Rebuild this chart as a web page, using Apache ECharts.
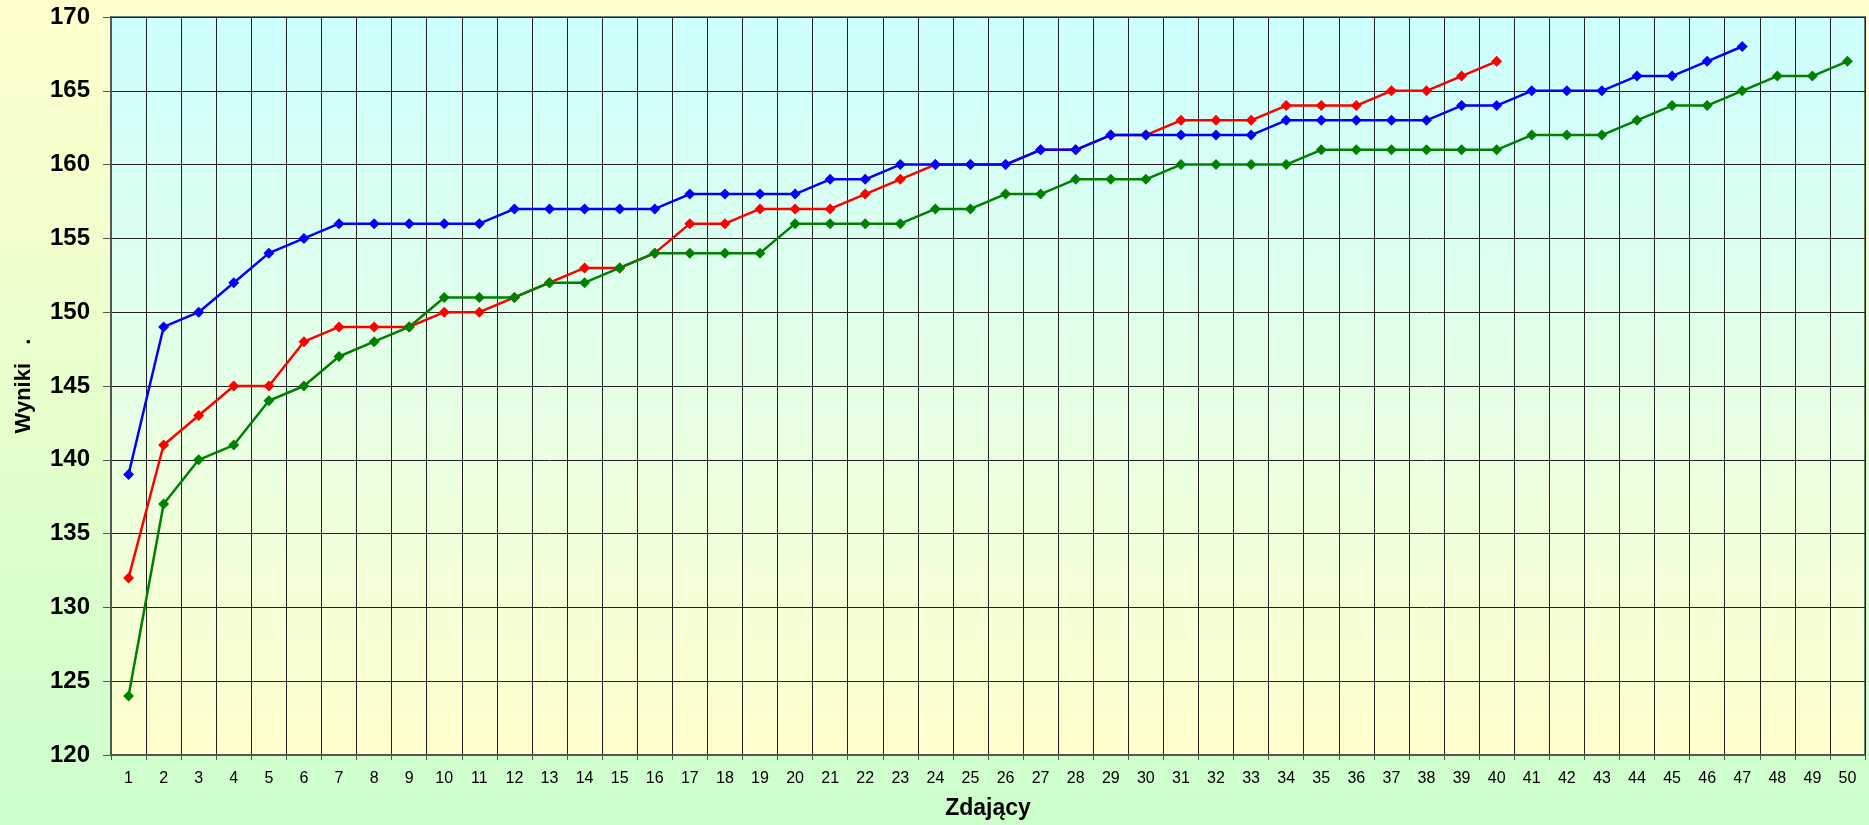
<!DOCTYPE html>
<html>
<head>
<meta charset="utf-8">
<title>Wyniki</title>
<script src="https://cdn.jsdelivr.net/npm/echarts@6/dist/echarts.min.js"></script>
<style>
    html, body { margin: 0; padding: 0; }
    #main {
        width: 1869px;
        height: 825px;
        background: linear-gradient(to bottom, #ffffcc 0%, #e6ffcc 50%, #ccffcc 100%);
    }
</style>
</head>
<body>
<div id="main"></div>
<script>
    // kategorie - numery zdających
    var categories = [];
    for (var k = 1; k <= 50; k++) categories.push(String(k));

    // wyniki
    var seriaNiebieska = [139, 149, 150, 152, 154, 155, 156, 156, 156, 156, 156, 157, 157, 157, 157, 157, 158, 158, 158, 158,
        159, 159, 160, 160, 160, 160, 161, 161, 162, 162, 162, 162, 162, 163, 163, 163, 163, 163, 164, 164,
        165, 165, 165, 166, 166, 167, 168];
    var seriaCzerwona = [132, 141, 143, 145, 145, 148, 149, 149, 149, 150, 150, 151, 152, 153, 153, 154, 156, 156, 157, 157,
        157, 158, 159, 160, 160, 160, 161, 161, 162, 162, 163, 163, 163, 164, 164, 164, 165, 165, 166, 167];
    var seriaZielona = [124, 137, 140, 141, 144, 145, 147, 148, 149, 151, 151, 151, 152, 152, 153, 154, 154, 154, 154, 156,
        156, 156, 156, 157, 157, 158, 158, 159, 159, 159, 160, 160, 160, 160, 161, 161, 161, 161, 161, 161,
        162, 162, 162, 163, 164, 164, 165, 166, 166, 167];

    var yTicks = [120, 125, 130, 135, 140, 145, 150, 155, 160, 165, 170];

    function linia(data, color, z) {
        return {
            type: 'line',
            data: data,
            z: z,
            symbol: 'diamond',
            symbolSize: 11,
            color: color,
            lineStyle: { color: color, width: 2.5 },
            itemStyle: { color: color },
            animation: false
        };
    }

    var myChart = echarts.init(document.getElementById('main'));
    var option = {
        backgroundColor: 'transparent',
        animation: false,
        grid: {
            left: 111,
            right: 4,
            top: 17,
            bottom: 70,
            show: true,
            borderColor: '#6b7b7b',
            borderWidth: 2,
            backgroundColor: {
                type: 'linear', x: 0, y: 0, x2: 0, y2: 1,
                colorStops: [
                    { offset: 0, color: '#ccffff' },
                    { offset: 1, color: '#ffffcc' }
                ]
            }
        },
        xAxis: {
            type: 'category',
            data: categories,
            boundaryGap: true,
            name: 'Zdający',
            nameLocation: 'middle',
            nameGap: 42,
            nameTextStyle: { fontFamily: 'Liberation Sans', fontWeight: 'bold', fontSize: 23, color: '#000' },
            axisLine: { lineStyle: { color: '#555', width: 2 } },
            axisTick: { show: true, interval: 0, length: 5, lineStyle: { color: '#555' } },
            axisLabel: { interval: 0, margin: 16, fontFamily: 'Liberation Sans', fontSize: 16, color: '#000' },
            splitLine: { show: true, interval: 0, lineStyle: { color: '#222', width: 1 } }
        },
        yAxis: {
            type: 'value',
            min: yTicks[0],
            max: yTicks[yTicks.length - 1],
            interval: 5,
            name: 'Wyniki   .',
            nameLocation: 'middle',
            nameGap: 76,
            nameTextStyle: { fontFamily: 'Liberation Sans', fontWeight: 'bold', fontSize: 22, color: '#000' },
            axisLine: { show: true, lineStyle: { color: '#555', width: 2 } },
            axisTick: { show: true, length: 8, lineStyle: { color: '#555' } },
            axisLabel: { margin: 21, fontFamily: 'Liberation Sans', fontWeight: 'bold', fontSize: 24, color: '#000' },
            splitLine: { show: true, lineStyle: { color: '#222', width: 1 } }
        },
        series: [
            linia(seriaCzerwona, '#ff0000', 2),
            linia(seriaZielona, '#008000', 3),
            linia(seriaNiebieska, '#0000ff', 4)
        ]
    };
    myChart.setOption(option);
</script>
</body>
</html>
